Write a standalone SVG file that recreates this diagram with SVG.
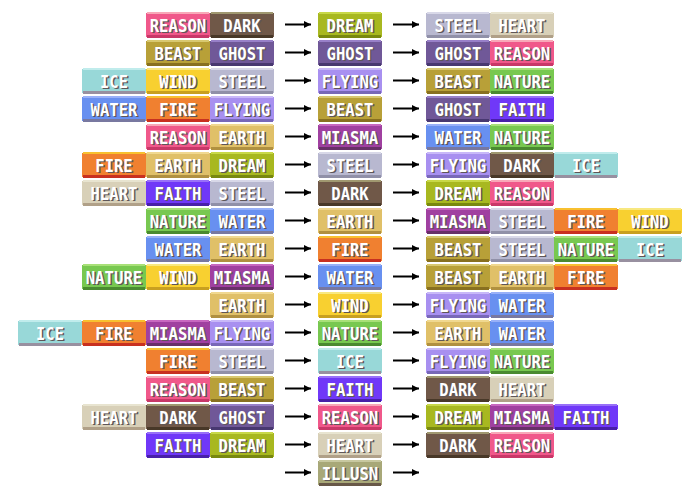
<svg xmlns="http://www.w3.org/2000/svg" width="700" height="500" viewBox="0 0 700 500">
<style>
.bd text{font-family:"DejaVu Sans Mono","Liberation Mono",monospace;font-weight:bold;font-size:18px;text-anchor:middle}
.bd .sh{fill:#5e5658}
.bd .tx{fill:#ffffff}
.reason .b{fill:#f0588a}.reason .h{fill:#f8a8b8}.reason .s{fill:#c83868}
.dark .b{fill:#705848}.dark .h{fill:#a09870}.dark .s{fill:#483828}
.beast .b{fill:#b8a038}.beast .h{fill:#d8c870}.beast .s{fill:#887020}
.ghost .b{fill:#705898}.ghost .h{fill:#9880c8}.ghost .s{fill:#483870}
.dream .b{fill:#a8b820}.dream .h{fill:#c8d848}.dream .s{fill:#788810}
.steel .b{fill:#b8b8d0}.steel .h{fill:#d8d8e8}.steel .s{fill:#9090a8}
.heart .b{fill:#d8d0b8}.heart .h{fill:#e8e4d0}.heart .s{fill:#b0a088}
.ice .b{fill:#98d8d8}.ice .h{fill:#c0ecec}.ice .s{fill:#9890a0}
.wind .b{fill:#f8d030}.wind .h{fill:#f8e880}.wind .s{fill:#c8a020}
.water .b{fill:#6890f0}.water .h{fill:#98b0f8}.water .s{fill:#7878a0}
.fire .b{fill:#f08030}.fire .h{fill:#f8c030}.fire .s{fill:#c83020}
.flying .b{fill:#a890f0}.flying .h{fill:#c8b8f8}.flying .s{fill:#7868b8}
.nature .b{fill:#78c850}.nature .h{fill:#a8e078}.nature .s{fill:#4a8a30}
.faith .b{fill:#7038f8}.faith .h{fill:#9870f8}.faith .s{fill:#4820a8}
.earth .b{fill:#e0c068}.earth .h{fill:#f0d890}.earth .s{fill:#b09040}
.miasma .b{fill:#a040a0}.miasma .h{fill:#c868c0}.miasma .s{fill:#683068}
.illusn .b{fill:#a8a878}.illusn .h{fill:#c8c8a0}.illusn .s{fill:#685848}
.ar{stroke:#000;stroke-width:2;fill:none;marker-end:url(#ah)}
</style>
<defs>
<path id="shp" d="M1 0H63V1H64V25H63V26H1V25H0V1H1Z"/>
<marker id="ah" markerUnits="userSpaceOnUse" markerWidth="8" markerHeight="8" refX="7" refY="4" orient="auto" viewBox="0 0 8 8"><path d="M0 0.5L7 4L0 7.5Z" fill="#000"/></marker>
</defs>
<g id="connectors">
<path class="ar" d="M285 24.5H311"/><path class="ar" d="M393 24.5H419"/>
<path class="ar" d="M285 52.5H311"/><path class="ar" d="M393 52.5H419"/>
<path class="ar" d="M285 80.5H311"/><path class="ar" d="M393 80.5H419"/>
<path class="ar" d="M285 108.5H311"/><path class="ar" d="M393 108.5H419"/>
<path class="ar" d="M285 136.5H311"/><path class="ar" d="M393 136.5H419"/>
<path class="ar" d="M285 164.5H311"/><path class="ar" d="M393 164.5H419"/>
<path class="ar" d="M285 192.5H311"/><path class="ar" d="M393 192.5H419"/>
<path class="ar" d="M285 220.5H311"/><path class="ar" d="M393 220.5H419"/>
<path class="ar" d="M285 248.5H311"/><path class="ar" d="M393 248.5H419"/>
<path class="ar" d="M285 276.5H311"/><path class="ar" d="M393 276.5H419"/>
<path class="ar" d="M285 304.5H311"/><path class="ar" d="M393 304.5H419"/>
<path class="ar" d="M285 332.5H311"/><path class="ar" d="M393 332.5H419"/>
<path class="ar" d="M285 360.5H311"/><path class="ar" d="M393 360.5H419"/>
<path class="ar" d="M285 388.5H311"/><path class="ar" d="M393 388.5H419"/>
<path class="ar" d="M285 416.5H311"/><path class="ar" d="M393 416.5H419"/>
<path class="ar" d="M285 444.5H311"/><path class="ar" d="M393 444.5H419"/>
<path class="ar" d="M285 472.5H311"/><path class="ar" d="M393 472.5H419"/>
</g>
<g id="r1l1" class="bd reason" transform="translate(146,12)"><use href="#shp" class="b"/><rect class="h" x="1" width="62" height="2"/><rect class="s" x="1" y="23" width="62" height="3"/><text class="sh" x="33.5" y="21" textLength="56.6" lengthAdjust="spacingAndGlyphs">REASON</text><text class="tx" x="32" y="19.5" textLength="56.6" lengthAdjust="spacingAndGlyphs">REASON</text></g>
<g id="r1l2" class="bd dark" transform="translate(210,12)"><use href="#shp" class="b"/><rect class="h" x="1" width="62" height="2"/><rect class="s" x="1" y="23" width="62" height="3"/><text class="sh" x="33.5" y="21" textLength="37.4" lengthAdjust="spacingAndGlyphs">DARK</text><text class="tx" x="32" y="19.5" textLength="37.4" lengthAdjust="spacingAndGlyphs">DARK</text></g>
<g id="r1m" class="bd dream" transform="translate(318,12)"><use href="#shp" class="b"/><rect class="h" x="1" width="62" height="2"/><rect class="s" x="1" y="23" width="62" height="3"/><text class="sh" x="33.5" y="21" textLength="47" lengthAdjust="spacingAndGlyphs">DREAM</text><text class="tx" x="32" y="19.5" textLength="47" lengthAdjust="spacingAndGlyphs">DREAM</text></g>
<g id="r1r1" class="bd steel" transform="translate(426,12)"><use href="#shp" class="b"/><rect class="h" x="1" width="62" height="2"/><rect class="s" x="1" y="23" width="62" height="3"/><text class="sh" x="33.5" y="21" textLength="47" lengthAdjust="spacingAndGlyphs">STEEL</text><text class="tx" x="32" y="19.5" textLength="47" lengthAdjust="spacingAndGlyphs">STEEL</text></g>
<g id="r1r2" class="bd heart" transform="translate(490,12)"><use href="#shp" class="b"/><rect class="h" x="1" width="62" height="2"/><rect class="s" x="1" y="23" width="62" height="3"/><text class="sh" x="33.5" y="21" textLength="47" lengthAdjust="spacingAndGlyphs">HEART</text><text class="tx" x="32" y="19.5" textLength="47" lengthAdjust="spacingAndGlyphs">HEART</text></g>

<g id="r2l1" class="bd beast" transform="translate(146,40)"><use href="#shp" class="b"/><rect class="h" x="1" width="62" height="2"/><rect class="s" x="1" y="23" width="62" height="3"/><text class="sh" x="33.5" y="21" textLength="47" lengthAdjust="spacingAndGlyphs">BEAST</text><text class="tx" x="32" y="19.5" textLength="47" lengthAdjust="spacingAndGlyphs">BEAST</text></g>
<g id="r2l2" class="bd ghost" transform="translate(210,40)"><use href="#shp" class="b"/><rect class="h" x="1" width="62" height="2"/><rect class="s" x="1" y="23" width="62" height="3"/><text class="sh" x="33.5" y="21" textLength="47" lengthAdjust="spacingAndGlyphs">GHOST</text><text class="tx" x="32" y="19.5" textLength="47" lengthAdjust="spacingAndGlyphs">GHOST</text></g>
<g id="r2m" class="bd ghost" transform="translate(318,40)"><use href="#shp" class="b"/><rect class="h" x="1" width="62" height="2"/><rect class="s" x="1" y="23" width="62" height="3"/><text class="sh" x="33.5" y="21" textLength="47" lengthAdjust="spacingAndGlyphs">GHOST</text><text class="tx" x="32" y="19.5" textLength="47" lengthAdjust="spacingAndGlyphs">GHOST</text></g>
<g id="r2r1" class="bd ghost" transform="translate(426,40)"><use href="#shp" class="b"/><rect class="h" x="1" width="62" height="2"/><rect class="s" x="1" y="23" width="62" height="3"/><text class="sh" x="33.5" y="21" textLength="47" lengthAdjust="spacingAndGlyphs">GHOST</text><text class="tx" x="32" y="19.5" textLength="47" lengthAdjust="spacingAndGlyphs">GHOST</text></g>
<g id="r2r2" class="bd reason" transform="translate(490,40)"><use href="#shp" class="b"/><rect class="h" x="1" width="62" height="2"/><rect class="s" x="1" y="23" width="62" height="3"/><text class="sh" x="33.5" y="21" textLength="56.6" lengthAdjust="spacingAndGlyphs">REASON</text><text class="tx" x="32" y="19.5" textLength="56.6" lengthAdjust="spacingAndGlyphs">REASON</text></g>

<g id="r3l1" class="bd ice" transform="translate(82,68)"><use href="#shp" class="b"/><rect class="h" x="1" width="62" height="2"/><rect class="s" x="1" y="23" width="62" height="3"/><text class="sh" x="33.5" y="21" textLength="27.8" lengthAdjust="spacingAndGlyphs">ICE</text><text class="tx" x="32" y="19.5" textLength="27.8" lengthAdjust="spacingAndGlyphs">ICE</text></g>
<g id="r3l2" class="bd wind" transform="translate(146,68)"><use href="#shp" class="b"/><rect class="h" x="1" width="62" height="2"/><rect class="s" x="1" y="23" width="62" height="3"/><text class="sh" x="33.5" y="21" textLength="37.4" lengthAdjust="spacingAndGlyphs">WIND</text><text class="tx" x="32" y="19.5" textLength="37.4" lengthAdjust="spacingAndGlyphs">WIND</text></g>
<g id="r3l3" class="bd steel" transform="translate(210,68)"><use href="#shp" class="b"/><rect class="h" x="1" width="62" height="2"/><rect class="s" x="1" y="23" width="62" height="3"/><text class="sh" x="33.5" y="21" textLength="47" lengthAdjust="spacingAndGlyphs">STEEL</text><text class="tx" x="32" y="19.5" textLength="47" lengthAdjust="spacingAndGlyphs">STEEL</text></g>
<g id="r3m" class="bd flying" transform="translate(318,68)"><use href="#shp" class="b"/><rect class="h" x="1" width="62" height="2"/><rect class="s" x="1" y="23" width="62" height="3"/><text class="sh" x="33.5" y="21" textLength="56.6" lengthAdjust="spacingAndGlyphs">FLYING</text><text class="tx" x="32" y="19.5" textLength="56.6" lengthAdjust="spacingAndGlyphs">FLYING</text></g>
<g id="r3r1" class="bd beast" transform="translate(426,68)"><use href="#shp" class="b"/><rect class="h" x="1" width="62" height="2"/><rect class="s" x="1" y="23" width="62" height="3"/><text class="sh" x="33.5" y="21" textLength="47" lengthAdjust="spacingAndGlyphs">BEAST</text><text class="tx" x="32" y="19.5" textLength="47" lengthAdjust="spacingAndGlyphs">BEAST</text></g>
<g id="r3r2" class="bd nature" transform="translate(490,68)"><use href="#shp" class="b"/><rect class="h" x="1" width="62" height="2"/><rect class="s" x="1" y="23" width="62" height="3"/><text class="sh" x="33.5" y="21" textLength="56.6" lengthAdjust="spacingAndGlyphs">NATURE</text><text class="tx" x="32" y="19.5" textLength="56.6" lengthAdjust="spacingAndGlyphs">NATURE</text></g>

<g id="r4l1" class="bd water" transform="translate(82,96)"><use href="#shp" class="b"/><rect class="h" x="1" width="62" height="2"/><rect class="s" x="1" y="23" width="62" height="3"/><text class="sh" x="33.5" y="21" textLength="47" lengthAdjust="spacingAndGlyphs">WATER</text><text class="tx" x="32" y="19.5" textLength="47" lengthAdjust="spacingAndGlyphs">WATER</text></g>
<g id="r4l2" class="bd fire" transform="translate(146,96)"><use href="#shp" class="b"/><rect class="h" x="1" width="62" height="2"/><rect class="s" x="1" y="23" width="62" height="3"/><text class="sh" x="33.5" y="21" textLength="37.4" lengthAdjust="spacingAndGlyphs">FIRE</text><text class="tx" x="32" y="19.5" textLength="37.4" lengthAdjust="spacingAndGlyphs">FIRE</text></g>
<g id="r4l3" class="bd flying" transform="translate(210,96)"><use href="#shp" class="b"/><rect class="h" x="1" width="62" height="2"/><rect class="s" x="1" y="23" width="62" height="3"/><text class="sh" x="33.5" y="21" textLength="56.6" lengthAdjust="spacingAndGlyphs">FLYING</text><text class="tx" x="32" y="19.5" textLength="56.6" lengthAdjust="spacingAndGlyphs">FLYING</text></g>
<g id="r4m" class="bd beast" transform="translate(318,96)"><use href="#shp" class="b"/><rect class="h" x="1" width="62" height="2"/><rect class="s" x="1" y="23" width="62" height="3"/><text class="sh" x="33.5" y="21" textLength="47" lengthAdjust="spacingAndGlyphs">BEAST</text><text class="tx" x="32" y="19.5" textLength="47" lengthAdjust="spacingAndGlyphs">BEAST</text></g>
<g id="r4r1" class="bd ghost" transform="translate(426,96)"><use href="#shp" class="b"/><rect class="h" x="1" width="62" height="2"/><rect class="s" x="1" y="23" width="62" height="3"/><text class="sh" x="33.5" y="21" textLength="47" lengthAdjust="spacingAndGlyphs">GHOST</text><text class="tx" x="32" y="19.5" textLength="47" lengthAdjust="spacingAndGlyphs">GHOST</text></g>
<g id="r4r2" class="bd faith" transform="translate(490,96)"><use href="#shp" class="b"/><rect class="h" x="1" width="62" height="2"/><rect class="s" x="1" y="23" width="62" height="3"/><text class="sh" x="33.5" y="21" textLength="47" lengthAdjust="spacingAndGlyphs">FAITH</text><text class="tx" x="32" y="19.5" textLength="47" lengthAdjust="spacingAndGlyphs">FAITH</text></g>

<g id="r5l1" class="bd reason" transform="translate(146,124)"><use href="#shp" class="b"/><rect class="h" x="1" width="62" height="2"/><rect class="s" x="1" y="23" width="62" height="3"/><text class="sh" x="33.5" y="21" textLength="56.6" lengthAdjust="spacingAndGlyphs">REASON</text><text class="tx" x="32" y="19.5" textLength="56.6" lengthAdjust="spacingAndGlyphs">REASON</text></g>
<g id="r5l2" class="bd earth" transform="translate(210,124)"><use href="#shp" class="b"/><rect class="h" x="1" width="62" height="2"/><rect class="s" x="1" y="23" width="62" height="3"/><text class="sh" x="33.5" y="21" textLength="47" lengthAdjust="spacingAndGlyphs">EARTH</text><text class="tx" x="32" y="19.5" textLength="47" lengthAdjust="spacingAndGlyphs">EARTH</text></g>
<g id="r5m" class="bd miasma" transform="translate(318,124)"><use href="#shp" class="b"/><rect class="h" x="1" width="62" height="2"/><rect class="s" x="1" y="23" width="62" height="3"/><text class="sh" x="33.5" y="21" textLength="56.6" lengthAdjust="spacingAndGlyphs">MIASMA</text><text class="tx" x="32" y="19.5" textLength="56.6" lengthAdjust="spacingAndGlyphs">MIASMA</text></g>
<g id="r5r1" class="bd water" transform="translate(426,124)"><use href="#shp" class="b"/><rect class="h" x="1" width="62" height="2"/><rect class="s" x="1" y="23" width="62" height="3"/><text class="sh" x="33.5" y="21" textLength="47" lengthAdjust="spacingAndGlyphs">WATER</text><text class="tx" x="32" y="19.5" textLength="47" lengthAdjust="spacingAndGlyphs">WATER</text></g>
<g id="r5r2" class="bd nature" transform="translate(490,124)"><use href="#shp" class="b"/><rect class="h" x="1" width="62" height="2"/><rect class="s" x="1" y="23" width="62" height="3"/><text class="sh" x="33.5" y="21" textLength="56.6" lengthAdjust="spacingAndGlyphs">NATURE</text><text class="tx" x="32" y="19.5" textLength="56.6" lengthAdjust="spacingAndGlyphs">NATURE</text></g>

<g id="r6l1" class="bd fire" transform="translate(82,152)"><use href="#shp" class="b"/><rect class="h" x="1" width="62" height="2"/><rect class="s" x="1" y="23" width="62" height="3"/><text class="sh" x="33.5" y="21" textLength="37.4" lengthAdjust="spacingAndGlyphs">FIRE</text><text class="tx" x="32" y="19.5" textLength="37.4" lengthAdjust="spacingAndGlyphs">FIRE</text></g>
<g id="r6l2" class="bd earth" transform="translate(146,152)"><use href="#shp" class="b"/><rect class="h" x="1" width="62" height="2"/><rect class="s" x="1" y="23" width="62" height="3"/><text class="sh" x="33.5" y="21" textLength="47" lengthAdjust="spacingAndGlyphs">EARTH</text><text class="tx" x="32" y="19.5" textLength="47" lengthAdjust="spacingAndGlyphs">EARTH</text></g>
<g id="r6l3" class="bd dream" transform="translate(210,152)"><use href="#shp" class="b"/><rect class="h" x="1" width="62" height="2"/><rect class="s" x="1" y="23" width="62" height="3"/><text class="sh" x="33.5" y="21" textLength="47" lengthAdjust="spacingAndGlyphs">DREAM</text><text class="tx" x="32" y="19.5" textLength="47" lengthAdjust="spacingAndGlyphs">DREAM</text></g>
<g id="r6m" class="bd steel" transform="translate(318,152)"><use href="#shp" class="b"/><rect class="h" x="1" width="62" height="2"/><rect class="s" x="1" y="23" width="62" height="3"/><text class="sh" x="33.5" y="21" textLength="47" lengthAdjust="spacingAndGlyphs">STEEL</text><text class="tx" x="32" y="19.5" textLength="47" lengthAdjust="spacingAndGlyphs">STEEL</text></g>
<g id="r6r1" class="bd flying" transform="translate(426,152)"><use href="#shp" class="b"/><rect class="h" x="1" width="62" height="2"/><rect class="s" x="1" y="23" width="62" height="3"/><text class="sh" x="33.5" y="21" textLength="56.6" lengthAdjust="spacingAndGlyphs">FLYING</text><text class="tx" x="32" y="19.5" textLength="56.6" lengthAdjust="spacingAndGlyphs">FLYING</text></g>
<g id="r6r2" class="bd dark" transform="translate(490,152)"><use href="#shp" class="b"/><rect class="h" x="1" width="62" height="2"/><rect class="s" x="1" y="23" width="62" height="3"/><text class="sh" x="33.5" y="21" textLength="37.4" lengthAdjust="spacingAndGlyphs">DARK</text><text class="tx" x="32" y="19.5" textLength="37.4" lengthAdjust="spacingAndGlyphs">DARK</text></g>
<g id="r6r3" class="bd ice" transform="translate(554,152)"><use href="#shp" class="b"/><rect class="h" x="1" width="62" height="2"/><rect class="s" x="1" y="23" width="62" height="3"/><text class="sh" x="33.5" y="21" textLength="27.8" lengthAdjust="spacingAndGlyphs">ICE</text><text class="tx" x="32" y="19.5" textLength="27.8" lengthAdjust="spacingAndGlyphs">ICE</text></g>

<g id="r7l1" class="bd heart" transform="translate(82,180)"><use href="#shp" class="b"/><rect class="h" x="1" width="62" height="2"/><rect class="s" x="1" y="23" width="62" height="3"/><text class="sh" x="33.5" y="21" textLength="47" lengthAdjust="spacingAndGlyphs">HEART</text><text class="tx" x="32" y="19.5" textLength="47" lengthAdjust="spacingAndGlyphs">HEART</text></g>
<g id="r7l2" class="bd faith" transform="translate(146,180)"><use href="#shp" class="b"/><rect class="h" x="1" width="62" height="2"/><rect class="s" x="1" y="23" width="62" height="3"/><text class="sh" x="33.5" y="21" textLength="47" lengthAdjust="spacingAndGlyphs">FAITH</text><text class="tx" x="32" y="19.5" textLength="47" lengthAdjust="spacingAndGlyphs">FAITH</text></g>
<g id="r7l3" class="bd steel" transform="translate(210,180)"><use href="#shp" class="b"/><rect class="h" x="1" width="62" height="2"/><rect class="s" x="1" y="23" width="62" height="3"/><text class="sh" x="33.5" y="21" textLength="47" lengthAdjust="spacingAndGlyphs">STEEL</text><text class="tx" x="32" y="19.5" textLength="47" lengthAdjust="spacingAndGlyphs">STEEL</text></g>
<g id="r7m" class="bd dark" transform="translate(318,180)"><use href="#shp" class="b"/><rect class="h" x="1" width="62" height="2"/><rect class="s" x="1" y="23" width="62" height="3"/><text class="sh" x="33.5" y="21" textLength="37.4" lengthAdjust="spacingAndGlyphs">DARK</text><text class="tx" x="32" y="19.5" textLength="37.4" lengthAdjust="spacingAndGlyphs">DARK</text></g>
<g id="r7r1" class="bd dream" transform="translate(426,180)"><use href="#shp" class="b"/><rect class="h" x="1" width="62" height="2"/><rect class="s" x="1" y="23" width="62" height="3"/><text class="sh" x="33.5" y="21" textLength="47" lengthAdjust="spacingAndGlyphs">DREAM</text><text class="tx" x="32" y="19.5" textLength="47" lengthAdjust="spacingAndGlyphs">DREAM</text></g>
<g id="r7r2" class="bd reason" transform="translate(490,180)"><use href="#shp" class="b"/><rect class="h" x="1" width="62" height="2"/><rect class="s" x="1" y="23" width="62" height="3"/><text class="sh" x="33.5" y="21" textLength="56.6" lengthAdjust="spacingAndGlyphs">REASON</text><text class="tx" x="32" y="19.5" textLength="56.6" lengthAdjust="spacingAndGlyphs">REASON</text></g>

<g id="r8l1" class="bd nature" transform="translate(146,208)"><use href="#shp" class="b"/><rect class="h" x="1" width="62" height="2"/><rect class="s" x="1" y="23" width="62" height="3"/><text class="sh" x="33.5" y="21" textLength="56.6" lengthAdjust="spacingAndGlyphs">NATURE</text><text class="tx" x="32" y="19.5" textLength="56.6" lengthAdjust="spacingAndGlyphs">NATURE</text></g>
<g id="r8l2" class="bd water" transform="translate(210,208)"><use href="#shp" class="b"/><rect class="h" x="1" width="62" height="2"/><rect class="s" x="1" y="23" width="62" height="3"/><text class="sh" x="33.5" y="21" textLength="47" lengthAdjust="spacingAndGlyphs">WATER</text><text class="tx" x="32" y="19.5" textLength="47" lengthAdjust="spacingAndGlyphs">WATER</text></g>
<g id="r8m" class="bd earth" transform="translate(318,208)"><use href="#shp" class="b"/><rect class="h" x="1" width="62" height="2"/><rect class="s" x="1" y="23" width="62" height="3"/><text class="sh" x="33.5" y="21" textLength="47" lengthAdjust="spacingAndGlyphs">EARTH</text><text class="tx" x="32" y="19.5" textLength="47" lengthAdjust="spacingAndGlyphs">EARTH</text></g>
<g id="r8r1" class="bd miasma" transform="translate(426,208)"><use href="#shp" class="b"/><rect class="h" x="1" width="62" height="2"/><rect class="s" x="1" y="23" width="62" height="3"/><text class="sh" x="33.5" y="21" textLength="56.6" lengthAdjust="spacingAndGlyphs">MIASMA</text><text class="tx" x="32" y="19.5" textLength="56.6" lengthAdjust="spacingAndGlyphs">MIASMA</text></g>
<g id="r8r2" class="bd steel" transform="translate(490,208)"><use href="#shp" class="b"/><rect class="h" x="1" width="62" height="2"/><rect class="s" x="1" y="23" width="62" height="3"/><text class="sh" x="33.5" y="21" textLength="47" lengthAdjust="spacingAndGlyphs">STEEL</text><text class="tx" x="32" y="19.5" textLength="47" lengthAdjust="spacingAndGlyphs">STEEL</text></g>
<g id="r8r3" class="bd fire" transform="translate(554,208)"><use href="#shp" class="b"/><rect class="h" x="1" width="62" height="2"/><rect class="s" x="1" y="23" width="62" height="3"/><text class="sh" x="33.5" y="21" textLength="37.4" lengthAdjust="spacingAndGlyphs">FIRE</text><text class="tx" x="32" y="19.5" textLength="37.4" lengthAdjust="spacingAndGlyphs">FIRE</text></g>
<g id="r8r4" class="bd wind" transform="translate(618,208)"><use href="#shp" class="b"/><rect class="h" x="1" width="62" height="2"/><rect class="s" x="1" y="23" width="62" height="3"/><text class="sh" x="33.5" y="21" textLength="37.4" lengthAdjust="spacingAndGlyphs">WIND</text><text class="tx" x="32" y="19.5" textLength="37.4" lengthAdjust="spacingAndGlyphs">WIND</text></g>

<g id="r9l1" class="bd water" transform="translate(146,236)"><use href="#shp" class="b"/><rect class="h" x="1" width="62" height="2"/><rect class="s" x="1" y="23" width="62" height="3"/><text class="sh" x="33.5" y="21" textLength="47" lengthAdjust="spacingAndGlyphs">WATER</text><text class="tx" x="32" y="19.5" textLength="47" lengthAdjust="spacingAndGlyphs">WATER</text></g>
<g id="r9l2" class="bd earth" transform="translate(210,236)"><use href="#shp" class="b"/><rect class="h" x="1" width="62" height="2"/><rect class="s" x="1" y="23" width="62" height="3"/><text class="sh" x="33.5" y="21" textLength="47" lengthAdjust="spacingAndGlyphs">EARTH</text><text class="tx" x="32" y="19.5" textLength="47" lengthAdjust="spacingAndGlyphs">EARTH</text></g>
<g id="r9m" class="bd fire" transform="translate(318,236)"><use href="#shp" class="b"/><rect class="h" x="1" width="62" height="2"/><rect class="s" x="1" y="23" width="62" height="3"/><text class="sh" x="33.5" y="21" textLength="37.4" lengthAdjust="spacingAndGlyphs">FIRE</text><text class="tx" x="32" y="19.5" textLength="37.4" lengthAdjust="spacingAndGlyphs">FIRE</text></g>
<g id="r9r1" class="bd beast" transform="translate(426,236)"><use href="#shp" class="b"/><rect class="h" x="1" width="62" height="2"/><rect class="s" x="1" y="23" width="62" height="3"/><text class="sh" x="33.5" y="21" textLength="47" lengthAdjust="spacingAndGlyphs">BEAST</text><text class="tx" x="32" y="19.5" textLength="47" lengthAdjust="spacingAndGlyphs">BEAST</text></g>
<g id="r9r2" class="bd steel" transform="translate(490,236)"><use href="#shp" class="b"/><rect class="h" x="1" width="62" height="2"/><rect class="s" x="1" y="23" width="62" height="3"/><text class="sh" x="33.5" y="21" textLength="47" lengthAdjust="spacingAndGlyphs">STEEL</text><text class="tx" x="32" y="19.5" textLength="47" lengthAdjust="spacingAndGlyphs">STEEL</text></g>
<g id="r9r3" class="bd nature" transform="translate(554,236)"><use href="#shp" class="b"/><rect class="h" x="1" width="62" height="2"/><rect class="s" x="1" y="23" width="62" height="3"/><text class="sh" x="33.5" y="21" textLength="56.6" lengthAdjust="spacingAndGlyphs">NATURE</text><text class="tx" x="32" y="19.5" textLength="56.6" lengthAdjust="spacingAndGlyphs">NATURE</text></g>
<g id="r9r4" class="bd ice" transform="translate(618,236)"><use href="#shp" class="b"/><rect class="h" x="1" width="62" height="2"/><rect class="s" x="1" y="23" width="62" height="3"/><text class="sh" x="33.5" y="21" textLength="27.8" lengthAdjust="spacingAndGlyphs">ICE</text><text class="tx" x="32" y="19.5" textLength="27.8" lengthAdjust="spacingAndGlyphs">ICE</text></g>

<g id="r10l1" class="bd nature" transform="translate(82,264)"><use href="#shp" class="b"/><rect class="h" x="1" width="62" height="2"/><rect class="s" x="1" y="23" width="62" height="3"/><text class="sh" x="33.5" y="21" textLength="56.6" lengthAdjust="spacingAndGlyphs">NATURE</text><text class="tx" x="32" y="19.5" textLength="56.6" lengthAdjust="spacingAndGlyphs">NATURE</text></g>
<g id="r10l2" class="bd wind" transform="translate(146,264)"><use href="#shp" class="b"/><rect class="h" x="1" width="62" height="2"/><rect class="s" x="1" y="23" width="62" height="3"/><text class="sh" x="33.5" y="21" textLength="37.4" lengthAdjust="spacingAndGlyphs">WIND</text><text class="tx" x="32" y="19.5" textLength="37.4" lengthAdjust="spacingAndGlyphs">WIND</text></g>
<g id="r10l3" class="bd miasma" transform="translate(210,264)"><use href="#shp" class="b"/><rect class="h" x="1" width="62" height="2"/><rect class="s" x="1" y="23" width="62" height="3"/><text class="sh" x="33.5" y="21" textLength="56.6" lengthAdjust="spacingAndGlyphs">MIASMA</text><text class="tx" x="32" y="19.5" textLength="56.6" lengthAdjust="spacingAndGlyphs">MIASMA</text></g>
<g id="r10m" class="bd water" transform="translate(318,264)"><use href="#shp" class="b"/><rect class="h" x="1" width="62" height="2"/><rect class="s" x="1" y="23" width="62" height="3"/><text class="sh" x="33.5" y="21" textLength="47" lengthAdjust="spacingAndGlyphs">WATER</text><text class="tx" x="32" y="19.5" textLength="47" lengthAdjust="spacingAndGlyphs">WATER</text></g>
<g id="r10r1" class="bd beast" transform="translate(426,264)"><use href="#shp" class="b"/><rect class="h" x="1" width="62" height="2"/><rect class="s" x="1" y="23" width="62" height="3"/><text class="sh" x="33.5" y="21" textLength="47" lengthAdjust="spacingAndGlyphs">BEAST</text><text class="tx" x="32" y="19.5" textLength="47" lengthAdjust="spacingAndGlyphs">BEAST</text></g>
<g id="r10r2" class="bd earth" transform="translate(490,264)"><use href="#shp" class="b"/><rect class="h" x="1" width="62" height="2"/><rect class="s" x="1" y="23" width="62" height="3"/><text class="sh" x="33.5" y="21" textLength="47" lengthAdjust="spacingAndGlyphs">EARTH</text><text class="tx" x="32" y="19.5" textLength="47" lengthAdjust="spacingAndGlyphs">EARTH</text></g>
<g id="r10r3" class="bd fire" transform="translate(554,264)"><use href="#shp" class="b"/><rect class="h" x="1" width="62" height="2"/><rect class="s" x="1" y="23" width="62" height="3"/><text class="sh" x="33.5" y="21" textLength="37.4" lengthAdjust="spacingAndGlyphs">FIRE</text><text class="tx" x="32" y="19.5" textLength="37.4" lengthAdjust="spacingAndGlyphs">FIRE</text></g>

<g id="r11l1" class="bd earth" transform="translate(210,292)"><use href="#shp" class="b"/><rect class="h" x="1" width="62" height="2"/><rect class="s" x="1" y="23" width="62" height="3"/><text class="sh" x="33.5" y="21" textLength="47" lengthAdjust="spacingAndGlyphs">EARTH</text><text class="tx" x="32" y="19.5" textLength="47" lengthAdjust="spacingAndGlyphs">EARTH</text></g>
<g id="r11m" class="bd wind" transform="translate(318,292)"><use href="#shp" class="b"/><rect class="h" x="1" width="62" height="2"/><rect class="s" x="1" y="23" width="62" height="3"/><text class="sh" x="33.5" y="21" textLength="37.4" lengthAdjust="spacingAndGlyphs">WIND</text><text class="tx" x="32" y="19.5" textLength="37.4" lengthAdjust="spacingAndGlyphs">WIND</text></g>
<g id="r11r1" class="bd flying" transform="translate(426,292)"><use href="#shp" class="b"/><rect class="h" x="1" width="62" height="2"/><rect class="s" x="1" y="23" width="62" height="3"/><text class="sh" x="33.5" y="21" textLength="56.6" lengthAdjust="spacingAndGlyphs">FLYING</text><text class="tx" x="32" y="19.5" textLength="56.6" lengthAdjust="spacingAndGlyphs">FLYING</text></g>
<g id="r11r2" class="bd water" transform="translate(490,292)"><use href="#shp" class="b"/><rect class="h" x="1" width="62" height="2"/><rect class="s" x="1" y="23" width="62" height="3"/><text class="sh" x="33.5" y="21" textLength="47" lengthAdjust="spacingAndGlyphs">WATER</text><text class="tx" x="32" y="19.5" textLength="47" lengthAdjust="spacingAndGlyphs">WATER</text></g>

<g id="r12l1" class="bd ice" transform="translate(18,320)"><use href="#shp" class="b"/><rect class="h" x="1" width="62" height="2"/><rect class="s" x="1" y="23" width="62" height="3"/><text class="sh" x="33.5" y="21" textLength="27.8" lengthAdjust="spacingAndGlyphs">ICE</text><text class="tx" x="32" y="19.5" textLength="27.8" lengthAdjust="spacingAndGlyphs">ICE</text></g>
<g id="r12l2" class="bd fire" transform="translate(82,320)"><use href="#shp" class="b"/><rect class="h" x="1" width="62" height="2"/><rect class="s" x="1" y="23" width="62" height="3"/><text class="sh" x="33.5" y="21" textLength="37.4" lengthAdjust="spacingAndGlyphs">FIRE</text><text class="tx" x="32" y="19.5" textLength="37.4" lengthAdjust="spacingAndGlyphs">FIRE</text></g>
<g id="r12l3" class="bd miasma" transform="translate(146,320)"><use href="#shp" class="b"/><rect class="h" x="1" width="62" height="2"/><rect class="s" x="1" y="23" width="62" height="3"/><text class="sh" x="33.5" y="21" textLength="56.6" lengthAdjust="spacingAndGlyphs">MIASMA</text><text class="tx" x="32" y="19.5" textLength="56.6" lengthAdjust="spacingAndGlyphs">MIASMA</text></g>
<g id="r12l4" class="bd flying" transform="translate(210,320)"><use href="#shp" class="b"/><rect class="h" x="1" width="62" height="2"/><rect class="s" x="1" y="23" width="62" height="3"/><text class="sh" x="33.5" y="21" textLength="56.6" lengthAdjust="spacingAndGlyphs">FLYING</text><text class="tx" x="32" y="19.5" textLength="56.6" lengthAdjust="spacingAndGlyphs">FLYING</text></g>
<g id="r12m" class="bd nature" transform="translate(318,320)"><use href="#shp" class="b"/><rect class="h" x="1" width="62" height="2"/><rect class="s" x="1" y="23" width="62" height="3"/><text class="sh" x="33.5" y="21" textLength="56.6" lengthAdjust="spacingAndGlyphs">NATURE</text><text class="tx" x="32" y="19.5" textLength="56.6" lengthAdjust="spacingAndGlyphs">NATURE</text></g>
<g id="r12r1" class="bd earth" transform="translate(426,320)"><use href="#shp" class="b"/><rect class="h" x="1" width="62" height="2"/><rect class="s" x="1" y="23" width="62" height="3"/><text class="sh" x="33.5" y="21" textLength="47" lengthAdjust="spacingAndGlyphs">EARTH</text><text class="tx" x="32" y="19.5" textLength="47" lengthAdjust="spacingAndGlyphs">EARTH</text></g>
<g id="r12r2" class="bd water" transform="translate(490,320)"><use href="#shp" class="b"/><rect class="h" x="1" width="62" height="2"/><rect class="s" x="1" y="23" width="62" height="3"/><text class="sh" x="33.5" y="21" textLength="47" lengthAdjust="spacingAndGlyphs">WATER</text><text class="tx" x="32" y="19.5" textLength="47" lengthAdjust="spacingAndGlyphs">WATER</text></g>

<g id="r13l1" class="bd fire" transform="translate(146,348)"><use href="#shp" class="b"/><rect class="h" x="1" width="62" height="2"/><rect class="s" x="1" y="23" width="62" height="3"/><text class="sh" x="33.5" y="21" textLength="37.4" lengthAdjust="spacingAndGlyphs">FIRE</text><text class="tx" x="32" y="19.5" textLength="37.4" lengthAdjust="spacingAndGlyphs">FIRE</text></g>
<g id="r13l2" class="bd steel" transform="translate(210,348)"><use href="#shp" class="b"/><rect class="h" x="1" width="62" height="2"/><rect class="s" x="1" y="23" width="62" height="3"/><text class="sh" x="33.5" y="21" textLength="47" lengthAdjust="spacingAndGlyphs">STEEL</text><text class="tx" x="32" y="19.5" textLength="47" lengthAdjust="spacingAndGlyphs">STEEL</text></g>
<g id="r13m" class="bd ice" transform="translate(318,348)"><use href="#shp" class="b"/><rect class="h" x="1" width="62" height="2"/><rect class="s" x="1" y="23" width="62" height="3"/><text class="sh" x="33.5" y="21" textLength="27.8" lengthAdjust="spacingAndGlyphs">ICE</text><text class="tx" x="32" y="19.5" textLength="27.8" lengthAdjust="spacingAndGlyphs">ICE</text></g>
<g id="r13r1" class="bd flying" transform="translate(426,348)"><use href="#shp" class="b"/><rect class="h" x="1" width="62" height="2"/><rect class="s" x="1" y="23" width="62" height="3"/><text class="sh" x="33.5" y="21" textLength="56.6" lengthAdjust="spacingAndGlyphs">FLYING</text><text class="tx" x="32" y="19.5" textLength="56.6" lengthAdjust="spacingAndGlyphs">FLYING</text></g>
<g id="r13r2" class="bd nature" transform="translate(490,348)"><use href="#shp" class="b"/><rect class="h" x="1" width="62" height="2"/><rect class="s" x="1" y="23" width="62" height="3"/><text class="sh" x="33.5" y="21" textLength="56.6" lengthAdjust="spacingAndGlyphs">NATURE</text><text class="tx" x="32" y="19.5" textLength="56.6" lengthAdjust="spacingAndGlyphs">NATURE</text></g>

<g id="r14l1" class="bd reason" transform="translate(146,376)"><use href="#shp" class="b"/><rect class="h" x="1" width="62" height="2"/><rect class="s" x="1" y="23" width="62" height="3"/><text class="sh" x="33.5" y="21" textLength="56.6" lengthAdjust="spacingAndGlyphs">REASON</text><text class="tx" x="32" y="19.5" textLength="56.6" lengthAdjust="spacingAndGlyphs">REASON</text></g>
<g id="r14l2" class="bd beast" transform="translate(210,376)"><use href="#shp" class="b"/><rect class="h" x="1" width="62" height="2"/><rect class="s" x="1" y="23" width="62" height="3"/><text class="sh" x="33.5" y="21" textLength="47" lengthAdjust="spacingAndGlyphs">BEAST</text><text class="tx" x="32" y="19.5" textLength="47" lengthAdjust="spacingAndGlyphs">BEAST</text></g>
<g id="r14m" class="bd faith" transform="translate(318,376)"><use href="#shp" class="b"/><rect class="h" x="1" width="62" height="2"/><rect class="s" x="1" y="23" width="62" height="3"/><text class="sh" x="33.5" y="21" textLength="47" lengthAdjust="spacingAndGlyphs">FAITH</text><text class="tx" x="32" y="19.5" textLength="47" lengthAdjust="spacingAndGlyphs">FAITH</text></g>
<g id="r14r1" class="bd dark" transform="translate(426,376)"><use href="#shp" class="b"/><rect class="h" x="1" width="62" height="2"/><rect class="s" x="1" y="23" width="62" height="3"/><text class="sh" x="33.5" y="21" textLength="37.4" lengthAdjust="spacingAndGlyphs">DARK</text><text class="tx" x="32" y="19.5" textLength="37.4" lengthAdjust="spacingAndGlyphs">DARK</text></g>
<g id="r14r2" class="bd heart" transform="translate(490,376)"><use href="#shp" class="b"/><rect class="h" x="1" width="62" height="2"/><rect class="s" x="1" y="23" width="62" height="3"/><text class="sh" x="33.5" y="21" textLength="47" lengthAdjust="spacingAndGlyphs">HEART</text><text class="tx" x="32" y="19.5" textLength="47" lengthAdjust="spacingAndGlyphs">HEART</text></g>

<g id="r15l1" class="bd heart" transform="translate(82,404)"><use href="#shp" class="b"/><rect class="h" x="1" width="62" height="2"/><rect class="s" x="1" y="23" width="62" height="3"/><text class="sh" x="33.5" y="21" textLength="47" lengthAdjust="spacingAndGlyphs">HEART</text><text class="tx" x="32" y="19.5" textLength="47" lengthAdjust="spacingAndGlyphs">HEART</text></g>
<g id="r15l2" class="bd dark" transform="translate(146,404)"><use href="#shp" class="b"/><rect class="h" x="1" width="62" height="2"/><rect class="s" x="1" y="23" width="62" height="3"/><text class="sh" x="33.5" y="21" textLength="37.4" lengthAdjust="spacingAndGlyphs">DARK</text><text class="tx" x="32" y="19.5" textLength="37.4" lengthAdjust="spacingAndGlyphs">DARK</text></g>
<g id="r15l3" class="bd ghost" transform="translate(210,404)"><use href="#shp" class="b"/><rect class="h" x="1" width="62" height="2"/><rect class="s" x="1" y="23" width="62" height="3"/><text class="sh" x="33.5" y="21" textLength="47" lengthAdjust="spacingAndGlyphs">GHOST</text><text class="tx" x="32" y="19.5" textLength="47" lengthAdjust="spacingAndGlyphs">GHOST</text></g>
<g id="r15m" class="bd reason" transform="translate(318,404)"><use href="#shp" class="b"/><rect class="h" x="1" width="62" height="2"/><rect class="s" x="1" y="23" width="62" height="3"/><text class="sh" x="33.5" y="21" textLength="56.6" lengthAdjust="spacingAndGlyphs">REASON</text><text class="tx" x="32" y="19.5" textLength="56.6" lengthAdjust="spacingAndGlyphs">REASON</text></g>
<g id="r15r1" class="bd dream" transform="translate(426,404)"><use href="#shp" class="b"/><rect class="h" x="1" width="62" height="2"/><rect class="s" x="1" y="23" width="62" height="3"/><text class="sh" x="33.5" y="21" textLength="47" lengthAdjust="spacingAndGlyphs">DREAM</text><text class="tx" x="32" y="19.5" textLength="47" lengthAdjust="spacingAndGlyphs">DREAM</text></g>
<g id="r15r2" class="bd miasma" transform="translate(490,404)"><use href="#shp" class="b"/><rect class="h" x="1" width="62" height="2"/><rect class="s" x="1" y="23" width="62" height="3"/><text class="sh" x="33.5" y="21" textLength="56.6" lengthAdjust="spacingAndGlyphs">MIASMA</text><text class="tx" x="32" y="19.5" textLength="56.6" lengthAdjust="spacingAndGlyphs">MIASMA</text></g>
<g id="r15r3" class="bd faith" transform="translate(554,404)"><use href="#shp" class="b"/><rect class="h" x="1" width="62" height="2"/><rect class="s" x="1" y="23" width="62" height="3"/><text class="sh" x="33.5" y="21" textLength="47" lengthAdjust="spacingAndGlyphs">FAITH</text><text class="tx" x="32" y="19.5" textLength="47" lengthAdjust="spacingAndGlyphs">FAITH</text></g>

<g id="r16l1" class="bd faith" transform="translate(146,432)"><use href="#shp" class="b"/><rect class="h" x="1" width="62" height="2"/><rect class="s" x="1" y="23" width="62" height="3"/><text class="sh" x="33.5" y="21" textLength="47" lengthAdjust="spacingAndGlyphs">FAITH</text><text class="tx" x="32" y="19.5" textLength="47" lengthAdjust="spacingAndGlyphs">FAITH</text></g>
<g id="r16l2" class="bd dream" transform="translate(210,432)"><use href="#shp" class="b"/><rect class="h" x="1" width="62" height="2"/><rect class="s" x="1" y="23" width="62" height="3"/><text class="sh" x="33.5" y="21" textLength="47" lengthAdjust="spacingAndGlyphs">DREAM</text><text class="tx" x="32" y="19.5" textLength="47" lengthAdjust="spacingAndGlyphs">DREAM</text></g>
<g id="r16m" class="bd heart" transform="translate(318,432)"><use href="#shp" class="b"/><rect class="h" x="1" width="62" height="2"/><rect class="s" x="1" y="23" width="62" height="3"/><text class="sh" x="33.5" y="21" textLength="47" lengthAdjust="spacingAndGlyphs">HEART</text><text class="tx" x="32" y="19.5" textLength="47" lengthAdjust="spacingAndGlyphs">HEART</text></g>
<g id="r16r1" class="bd dark" transform="translate(426,432)"><use href="#shp" class="b"/><rect class="h" x="1" width="62" height="2"/><rect class="s" x="1" y="23" width="62" height="3"/><text class="sh" x="33.5" y="21" textLength="37.4" lengthAdjust="spacingAndGlyphs">DARK</text><text class="tx" x="32" y="19.5" textLength="37.4" lengthAdjust="spacingAndGlyphs">DARK</text></g>
<g id="r16r2" class="bd reason" transform="translate(490,432)"><use href="#shp" class="b"/><rect class="h" x="1" width="62" height="2"/><rect class="s" x="1" y="23" width="62" height="3"/><text class="sh" x="33.5" y="21" textLength="56.6" lengthAdjust="spacingAndGlyphs">REASON</text><text class="tx" x="32" y="19.5" textLength="56.6" lengthAdjust="spacingAndGlyphs">REASON</text></g>

<g id="r17m" class="bd illusn" transform="translate(318,460)"><use href="#shp" class="b"/><rect class="h" x="1" width="62" height="2"/><rect class="s" x="1" y="23" width="62" height="3"/><text class="sh" x="33.5" y="21" textLength="56.6" lengthAdjust="spacingAndGlyphs">ILLUSN</text><text class="tx" x="32" y="19.5" textLength="56.6" lengthAdjust="spacingAndGlyphs">ILLUSN</text></g>
</svg>
